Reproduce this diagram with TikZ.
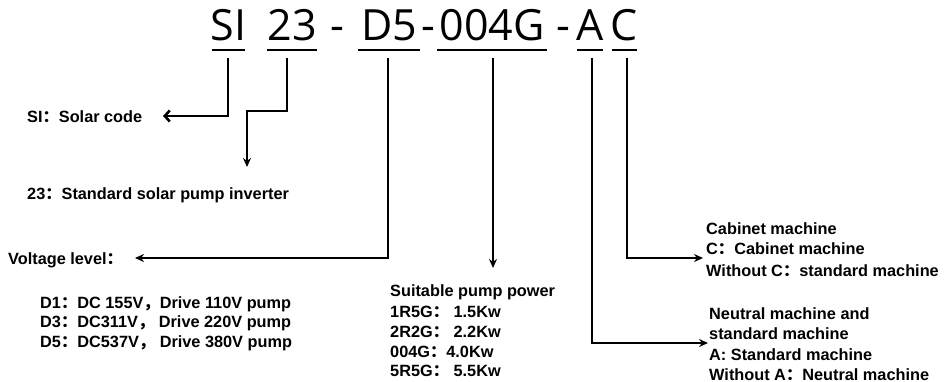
\documentclass[tikz,border=0pt]{standalone}
\usepackage{fontspec}
\setmainfont{Liberation Sans}
\newfontfamily\codefont{Open Sans}
\newfontfamily\cjk{Noto Sans CJK SC}
\usetikzlibrary{arrows.meta}
\newcommand{\fc}{{\cjk ：}}
\newcommand{\fcm}{{\cjk ，}}
\begin{document}
\begin{tikzpicture}[x=1pt,y=-1pt,
  code/.style={font=\codefont\fontsize{43}{43}\selectfont,inner sep=0pt,anchor=base},
  uline/.style={line width=1.6pt},
  conn/.style={line width=2.6pt},
  arr/.style={conn,-{Stealth[length=9pt,width=8pt]}},
  barb/.style={conn,-{Straight Barb[length=5pt,width=11pt,line width=2.6pt]}},
  lbl/.style={font=\bfseries\fontsize{16.3}{20}\selectfont,inner sep=0pt,anchor=base west}]
\useasboundingbox (0,0) rectangle (952,382);
% code string
\node[code] (si) at (228.5,41) {SI};
\node[code] (n23) at (292,41) {23};
\node[code] (h1) at (337.5,41) {-};
\node[code] (d5) at (389,41) {D5};
\node[code] (h2) at (428,41) {-};
\node[code] (pw) at (492,41) {004G};
\node[code] (h3) at (563.5,41) {-};
\node[code] (ca) at (590,41) {A};
\node[code] (cc) at (624.5,41) {C};
\foreach \n/\a/\b in {si/212/245,n23/267/317,d5/358/420,pw/437/547,ca/577/603,cc/612/637}
  \draw[uline] (\a,50) -- (\b,50);
% bar start coordinates
\coordinate (siB) at (228,58);
\coordinate (n23B) at (287,58);
\coordinate (d5B) at (388,58);
\coordinate (pwB) at (493,58);
\coordinate (caB) at (592,58);
\coordinate (ccB) at (627,58);
% arrow ends
\coordinate (siT) at (163,116);
\coordinate (n23T) at (247,167);
\coordinate (d5T) at (135,258);
\coordinate (pwT) at (493,268);
\coordinate (caT) at (708,343);
\coordinate (ccT) at (703,258);
% labels
\node[lbl] (lsi) at (27,123) {SI\fc Solar code};
\node[lbl] (l23) at (27,199) {23\fc Standard solar pump inverter};
\node[lbl] (lv) at (8,264) {Voltage level\fc};
\node[lbl] (ld1) at (40,308) {D1\fc DC 155V\fcm Drive 110V pump};
\node[lbl] (ld3) at (40,327) {D3\fc DC311V\fcm\ Drive 220V pump};
\node[lbl] (ld5) at (40,347) {D5\fc DC537V\fcm\ Drive 380V pump};
\node[lbl] (lp0) at (390,296) {Suitable pump power};
\node[lbl] (lp1) at (390,317) {1R5G\fc\ 1.5Kw};
\node[lbl] (lp2) at (390,337) {2R2G\fc\ 2.2Kw};
\node[lbl] (lp3) at (390,357) {004G\fc 4.0Kw};
\node[lbl] (lp4) at (390,376) {5R5G\fc\ 5.5Kw};
\node[lbl] (lc1) at (706,234) {Cabinet machine};
\node[lbl] (lc2) at (706,254) {C\fc Cabinet machine};
\node[lbl] (lc3) at (706,276) {Without C\fc standard machine};
\node[lbl] (la1) at (709,319) {Neutral machine and};
\node[lbl] (la2) at (709,339) {standard machine};
\node[lbl] (la3) at (709,360) {A: Standard machine};
\node[lbl] (la4) at (709,380) {Without A\fc Neutral machine};
% connectors
\draw[barb] (siB) |- (siT);
\draw[arr] (n23B) -- (287,111) -| (n23T);
\draw[arr] (d5B) |- (d5T);
\draw[arr] (pwB) -- (pwT);
\draw[arr] (caB) |- (caT);
\draw[arr] (ccB) |- (ccT);
\end{tikzpicture}
\end{document}
